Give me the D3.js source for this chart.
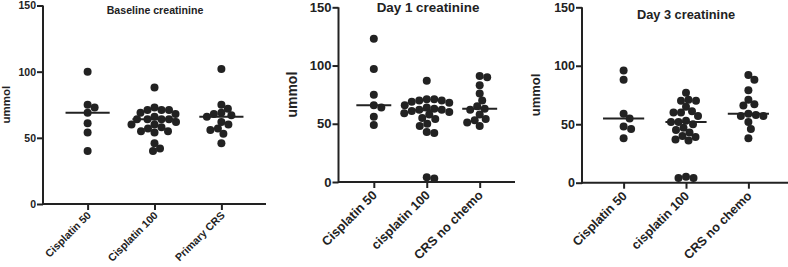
<!DOCTYPE html>
<html>
<head>
<meta charset="utf-8">
<script src="https://cdn.jsdelivr.net/npm/d3@7"></script>
<style>
  body { margin: 0; background: #fff; }
  svg { display: block; font-family: "Liberation Sans", Arial, sans-serif; font-weight: bold; }
</style>
</head>
<body>
<svg width="788" height="267"></svg>
<script>
// Group names and tick values
const baselineGroups = ["Cisplatin 50", "Cisplatin 100", "Primary CRS"];
const followGroups = ["Cisplatin 50", "cisplatin 100", "CRS no chemo"];
const yTicks = [0, 50, 100, 150];

// Baseline creatinine (ummol)
const baseCis50 = [100, 75, 73, 69, 61, 54, 40];
const baseCis100 = [88, 73, 71, 71, 71, 69, 68, 66, 64, 64, 64, 64, 62, 60, 60, 58, 57, 55, 55, 54, 46, 42, 40];
const basePrimaryCRS = [102, 75, 72, 69, 68, 67, 66, 62, 60, 57, 56, 53, 46];

// Day 1 creatinine (ummol)
const day1Cis50 = [123, 97, 75, 66, 64, 56, 49];
const day1Cis100 = [87, 71, 71, 70, 70, 69, 68, 66, 64, 63, 62, 62, 61, 60, 59, 58, 55, 54, 50, 48, 43, 42, 4, 3];
const day1CRS = [91, 90, 83, 76, 70, 65, 63, 62, 58, 54, 53, 51, 48];

// Day 3 creatinine (ummol)
const day3Cis50 = [96, 88, 59, 55, 48, 46, 38];
const day3Cis100 = [77, 71, 70, 70, 65, 61, 60, 60, 57, 53, 52, 52, 50, 47, 45, 43, 40, 39, 37, 36, 5, 4, 4];
const day3CRS = [92, 88, 79, 71, 67, 66, 59, 58, 57, 57, 52, 46, 38];

const ink = "#222";
const svg = d3.select("svg");

// Layout for each of the three panels
const panels = [
  { title: "Baseline creatinine", groups: baselineGroups, series: [baseCis50, baseCis100, basePrimaryCRS],
    x0: 43, x1: 266, yTop: 5.5, yBottom: 204, titleX: 155, titleY: 14, titleSize: 10.6,
    tickSize: 10.5, labelSize: 10.6, labelDy: 12, yLabelX: 10, yLabelSize: 11.5, r: 4 },
  { title: "Day 1 creatinine", groups: followGroups, series: [day1Cis50, day1Cis100, day1CRS],
    x0: 338.5, x1: 515, yTop: 7.3, yBottom: 182, titleX: 428, titleY: 11.5, titleSize: 13.4,
    tickSize: 13, labelSize: 12.8, labelDy: 14, yLabelX: 297, yLabelSize: 14, r: 4 },
  { title: "Day 3 creatinine", groups: followGroups, series: [day3Cis50, day3Cis100, day3CRS],
    x0: 582, x1: 790, yTop: 7.3, yBottom: 182.7, titleX: 686, titleY: 19, titleSize: 12.8,
    tickSize: 12.5, labelSize: 12.6, labelDy: 14, yLabelX: 540, yLabelSize: 13, r: 4 }
];

// Simple beeswarm: push each dot sideways until it no longer overlaps earlier dots
function swarm(values, y, minDist) {
  const placed = [];
  values.slice().sort((a, b) => b - a).forEach((v) => {
    const cy = y(v);
    let dx = 0;
    for (let k = 0; k < 400; k++) {
      const cands = k === 0 ? [0] : [k * 0.5, -k * 0.5];
      const ok = cands.find((c) =>
        placed.every((p) => (p.dx - c) ** 2 + (p.cy - cy) ** 2 >= minDist * minDist));
      if (ok !== undefined) { dx = ok; break; }
    }
    placed.push({ v, cy, dx });
  });
  return placed;
}

panels.forEach((p) => {
  const g = svg.append("g");

  const y = d3.scaleLinear().domain([0, 150]).range([p.yBottom, p.yTop]);
  const x = d3.scalePoint().domain(p.groups).range([p.x0, p.x1]).padding(0.667);
  const step = x.step();

  // Y axis
  const yAxis = g.append("g")
    .attr("transform", `translate(${p.x0},0)`)
    .call(d3.axisLeft(y).tickValues(yTicks).tickSize(6).tickPadding(1));
  yAxis.selectAll("text").style("font-size", p.tickSize + "px").attr("fill", ink);

  // X axis
  const xAxis = g.append("g")
    .attr("transform", `translate(0,${p.yBottom})`)
    .call(d3.axisBottom(x).tickSize(6).tickFormat(""));

  [yAxis, xAxis].forEach((a) => {
    a.select(".domain").attr("stroke", ink).attr("stroke-width", 2);
    a.selectAll(".tick line").attr("stroke", ink).attr("stroke-width", 2);
  });
  xAxis.select(".domain").attr("d", `M${p.x0},0H${p.x1}`);
  yAxis.select(".domain").attr("d", `M0,${p.yBottom + 1}V${p.yTop}`);

  // Rotated category labels
  g.selectAll(".xlab")
    .data(p.groups)
    .enter()
    .append("text")
    .attr("class", "xlab")
    .attr("text-anchor", "end")
    .attr("transform", (d) => `translate(${x(d) + 4},${p.yBottom + p.labelDy}) rotate(-45)`)
    .style("font-size", p.labelSize + "px")
    .attr("fill", ink)
    .text((d) => d);

  // Dots and median line for each group
  p.groups.forEach((grp, i) => {
    const vals = p.series[i];
    const cx = x(grp);
    const dots = swarm(vals, y, p.r * 1.85);
    g.selectAll(`.dot${i}`)
      .data(dots)
      .enter()
      .append("circle")
      .attr("class", `dot${i}`)
      .attr("cx", (d) => cx + d.dx)
      .attr("cy", (d) => d.cy)
      .attr("r", p.r)
      .attr("fill", ink);

    const med = d3.median(vals);
    g.append("line")
      .attr("x1", cx - step * 0.33)
      .attr("x2", cx + step * 0.33)
      .attr("y1", y(med))
      .attr("y2", y(med))
      .attr("stroke", ink)
      .attr("stroke-width", 2);
  });

  // Title
  g.append("text")
    .attr("x", p.titleX)
    .attr("y", p.titleY)
    .attr("text-anchor", "middle")
    .style("font-size", p.titleSize + "px")
    .attr("fill", ink)
    .text(p.title);

  // Y label
  g.append("text")
    .attr("transform", `translate(${p.yLabelX},${(p.yTop + p.yBottom) / 2}) rotate(-90)`)
    .attr("text-anchor", "middle")
    .style("font-size", p.yLabelSize + "px")
    .attr("fill", ink)
    .text("ummol");
});
</script>
</body>
</html>
